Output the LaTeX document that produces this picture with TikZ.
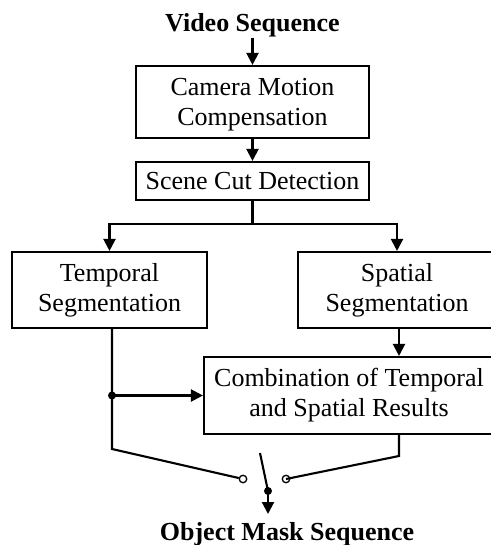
\documentclass[tikz,border=0pt]{standalone}
\usepackage{fontspec}
\setmainfont{Liberation Serif}
\usetikzlibrary{arrows.meta,calc}
\begin{document}
\begin{tikzpicture}[x=1pt,y=-1pt,
  every node/.style={font=\fontsize{26}{30}\selectfont},
  blk/.style={draw,line width=2.1pt,inner sep=0pt,align=center},
  lbl/.style={inner sep=0pt,anchor=base,font=\fontsize{26}{30}\selectfont\bfseries},
  wire/.style={line width=2.1pt},
  arr/.style={line width=2.1pt,-{Triangle[width=12pt,length=12pt]}},
  contact/.style={circle,draw,line width=1.3pt,inner sep=0pt,minimum size=7.5pt},
  dotn/.style={circle,fill,inner sep=0pt,minimum size=8pt}]
\useasboundingbox (0,0) rectangle (490,545);
\node[lbl] (vs) at (252.5,32) {Video Sequence};
\node[blk,minimum width=233pt,minimum height=72pt,text height=53.6pt,text depth=5.7pt] (cam) at (252.5,102) {Camera Motion\\Compensation};
\node[blk,minimum width=233pt,minimum height=38pt] (scd) at (252.5,181) {Scene Cut Detection};
\node[blk,minimum width=195pt,minimum height=76pt] (tmp) at (109.5,290) {Temporal\\Segmentation};
\node[blk,minimum width=198pt,minimum height=76pt] (spa) at (397,290) {Spatial\\Segmentation};
\node[blk,minimum width=290pt,minimum height=77pt] (comb) at (349,395.5) {Combination of Temporal\\and Spatial Results};
\node[lbl] (oms) at (287,540) {Object Mask Sequence};
\coordinate (split) at (252.5,224);
\coordinate (j) at (112,395.5);
\coordinate (sa) at (112,449);
\coordinate (rb) at (399,456);
\coordinate (bt) at (260,453);
\coordinate (out) at (268,514);
\node[contact] (ca) at (243,479) {};
\node[contact] (cb) at (286,479) {};
\node[dotn] (pv) at (268,491) {};
\node[dotn] (jd) at (j) {};
\draw[arr] (vs.south) -- (cam.north);
\draw[arr] (cam.south) -- (scd.north);
\draw[wire] (scd.south) -- (split);
\draw[arr] (split) -| (tmp.north);
\draw[arr] (split) -| (spa.north);
\draw[arr] (spa.south -| rb) -- (comb.north -| rb);
\draw[wire] (tmp.south -| j) -- (jd.center) -- (sa) -- (ca);
\draw[arr] (jd.center) -- (comb.west);
\draw[wire] (comb.south -| rb) -- (rb) -- (cb.center);
\draw[wire] (bt) -- (pv.center);
\draw[arr] (pv.center) -- (out);
\end{tikzpicture}
\end{document}
